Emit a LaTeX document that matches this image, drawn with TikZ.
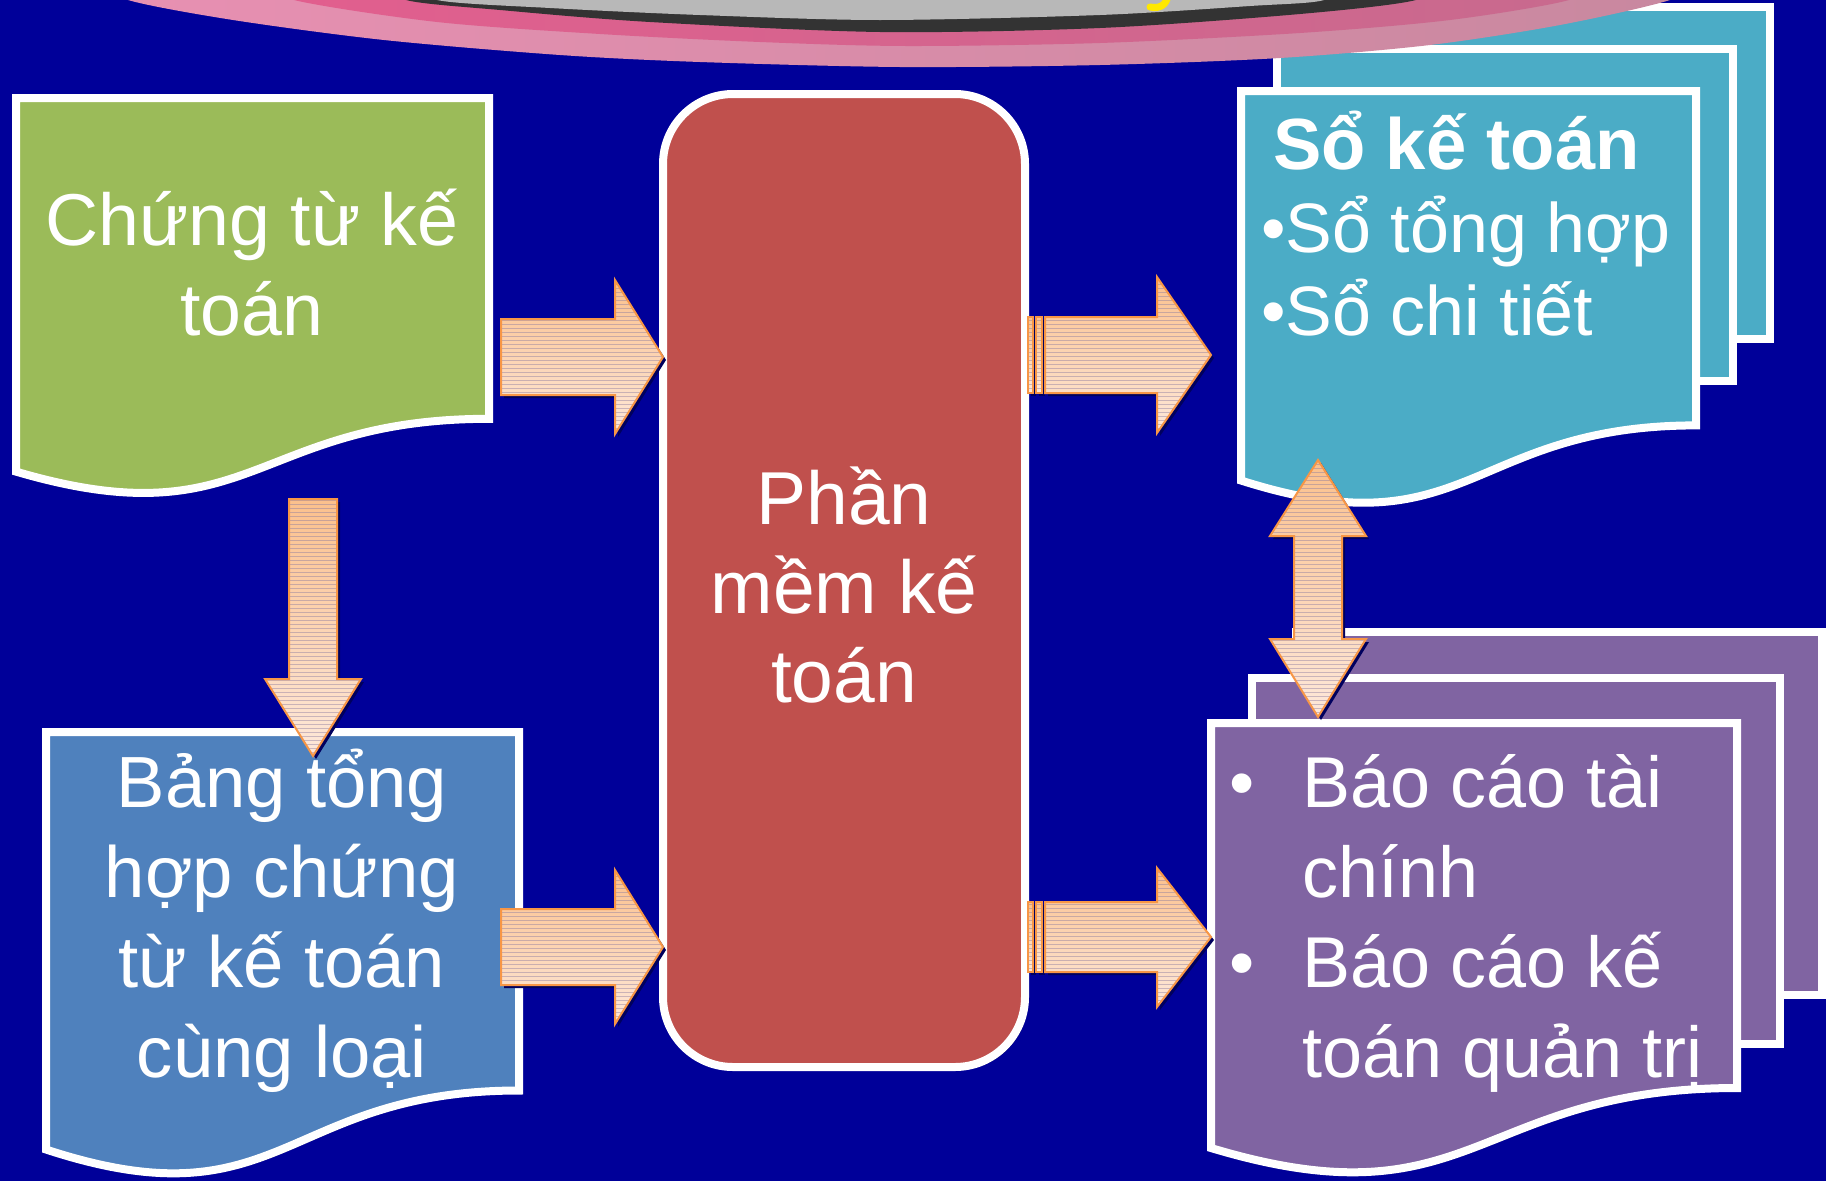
\documentclass[tikz,border=0pt]{standalone}
\usepackage{fontspec}
\setmainfont{Liberation Sans}
\definecolor{bg}{HTML}{000099}
\definecolor{cgreen}{HTML}{9BBB59}
\definecolor{cblue}{HTML}{4F81BD}
\definecolor{cred}{HTML}{C0504D}
\definecolor{ccyan}{HTML}{4BACC6}
\definecolor{cpurple}{HTML}{8064A2}
\definecolor{aline}{HTML}{F79646}
\definecolor{atop}{HTML}{FBC08C}
\definecolor{abot}{HTML}{FDE8DA}
\definecolor{stripecol}{HTML}{8C7CA0}
\definecolor{shad}{HTML}{00005E}
\definecolor{pkA}{HTML}{E890B2}
\definecolor{pkB}{HTML}{D9B2C6}
\definecolor{pkC}{HTML}{C8889F}
\definecolor{dpA}{HTML}{E25E8E}
\definecolor{dpB}{HTML}{A33C64}
\definecolor{dpC}{HTML}{C86A8E}
\definecolor{ringcol}{HTML}{333333}
\definecolor{graycol}{HTML}{B8B8B8}
\definecolor{yel}{HTML}{FFE800}
\tikzset{
  docbox/.style={draw=white, line width=8pt, line join=miter},
  shadowfill/.style={fill=shad},
  arrline/.style={draw=aline, line width=2pt, line join=miter},
  stripeline/.style={draw=stripecol, line width=0.8pt, opacity=0.45},
  bigtext/.style={text=white, inner sep=0pt, font=\fontsize{72}{90}\selectfont},
}
\newcommand\blockarr[5]{%
  \fill[shadowfill, shift={(3,3)}] #1;
  \shade[top color=atop, bottom color=abot] #1;
  \begin{scope}
    \clip #1;
    \foreach \yy in {#2,...,#3} {
      \draw[stripeline] (#4,\yy*4) -- (#5,\yy*4);
    }
  \end{scope}
  \draw[arrline] #1;
}
\begin{document}
\begin{tikzpicture}[x=1pt,y=-1pt]
\useasboundingbox (0,0) rectangle (1826,1181);
\fill[bg] (0,0) rectangle (1826,1181);

% ---------- green document ----------
\fill[shadowfill, shift={(3,3)}] (16,98) -- (489,98) -- (489,418.8) .. controls (252.5,418.8) and (252.5,541) .. (16,471.6) -- cycle;
\path[docbox, fill=cgreen] (16,98) -- (489,98) -- (489,418.8) .. controls (252.5,418.8) and (252.5,541) .. (16,471.6) -- cycle;
\node[bigtext, anchor=base, align=center, font=\fontsize{73.5}{90}\selectfont] (chungtu) at (252,335) {Chứng từ kế\\toán};

% ---------- blue document ----------
\fill[shadowfill, shift={(3,3)}] (46,732) -- (519,732) -- (519,1090.5) .. controls (282.5,1090.5) and (282.5,1227) .. (46,1149.5) -- cycle;
\path[docbox, fill=cblue] (46,732) -- (519,732) -- (519,1090.5) .. controls (282.5,1090.5) and (282.5,1227) .. (46,1149.5) -- cycle;
\node[bigtext, anchor=base, align=center, font=\fontsize{72.5}{90}\selectfont] (bangth) at (282,1077) {Bảng tổng\\hợp chứng\\từ kế toán\\cùng loại};

% ---------- red rounded box ----------
\fill[shadowfill, rounded corners=70pt] (666,97) rectangle (1028,1070);
\path[docbox, fill=cred, rounded corners=70pt] (663,94) rectangle (1025,1067);
\node[bigtext, anchor=base, align=center, font=\fontsize{75}{89}\selectfont] (phanmem) at (844,702) {Phần\\mềm kế\\toán};

% ---------- cyan multi-document ----------
\fill[shadowfill] (1316,10) rectangle (1773,342);
\path[docbox, fill=ccyan] (1313,7) rectangle (1770,339);
\fill[shadowfill] (1280,52) rectangle (1736,384);
\path[docbox, fill=ccyan] (1277,49) rectangle (1733,381);
\fill[shadowfill, shift={(3,3)}] (1241,91) -- (1696,91) -- (1696,425.4) .. controls (1468.5,425.4) and (1468.5,552.8) .. (1241,480.5) -- cycle;
\path[docbox, fill=ccyan] (1241,91) -- (1696,91) -- (1696,425.4) .. controls (1468.5,425.4) and (1468.5,552.8) .. (1241,480.5) -- cycle;
\node[text=white, inner sep=0pt, anchor=base west, align=left, font=\fontsize{70}{83}\selectfont] (soketoan) at (1261,335)
  {\hspace*{12pt}{\fontsize{72.5}{83}\selectfont\textbf{Sổ kế toán}}\\•Sổ tổng hợp\\•Sổ chi tiết};

% ---------- purple multi-document ----------
\fill[shadowfill] (1299,635) rectangle (1840,998);
\path[docbox, fill=cpurple] (1296,632) rectangle (1822,995);
\path[draw=white, line width=8pt] (1822,628) -- (1822,999);
\fill[shadowfill] (1255,681) rectangle (1783,1047);
\path[docbox, fill=cpurple] (1252,678) rectangle (1780,1044);
\fill[shadowfill, shift={(3,3)}] (1211,723) -- (1737,723) -- (1737,1088) .. controls (1474,1088) and (1474,1227) .. (1211,1148) -- cycle;
\path[docbox, fill=cpurple] (1211,723) -- (1737,723) -- (1737,1088) .. controls (1474,1088) and (1474,1227) .. (1211,1148) -- cycle;
\node[bigtext, anchor=base west, align=left] (baocao) at (1229,1077)
  {\makebox[73pt][l]{•}Báo cáo tài\\\hspace*{73pt}chính\\\makebox[73pt][l]{•}Báo cáo kế\\\hspace*{73pt}toán quản trị};

% ---------- block arrows ----------
% green -> red
\blockarr{(501,319) -- (615,319) -- (615,280) -- (663,357) -- (615,434) -- (615,395) -- (501,395) -- cycle}{69}{109}{495}{670}
% blue -> red
\blockarr{(501,909) -- (615,909) -- (615,870) -- (663,947) -- (615,1024) -- (615,985) -- (501,985) -- cycle}{217}{257}{495}{670}
% red -> cyan (striped)
\blockarr{(1028,317) rectangle (1033,393)}{79}{99}{1020}{1040}
\blockarr{(1036,317) rectangle (1042,393)}{79}{99}{1030}{1050}
\blockarr{(1045,317) -- (1157,317) -- (1157,277) -- (1211,355) -- (1157,433) -- (1157,393) -- (1045,393) -- cycle}{69}{109}{1040}{1215}
% red -> purple (striped)
\blockarr{(1028,902) rectangle (1033,972)}{225}{244}{1020}{1040}
\blockarr{(1036,902) rectangle (1042,972)}{225}{244}{1030}{1050}
\blockarr{(1045,902) -- (1157,902) -- (1157,868) -- (1211,937) -- (1157,1007) -- (1157,972) -- (1045,972) -- cycle}{216}{252}{1040}{1215}
% green -> blue (down)
\blockarr{(289,499) -- (337,499) -- (337,679) -- (361,679) -- (313,756) -- (265,679) -- (289,679) -- cycle}{124}{190}{260}{366}
% cyan <-> purple (double)
\blockarr{(1318,460) -- (1366,536) -- (1342,536) -- (1342,639) -- (1366,639) -- (1318,717) -- (1270,639) -- (1294,639) -- (1294,536) -- (1270,536) -- cycle}{114}{180}{1265}{1371}

% ---------- banner (cropped) ----------
\begin{scope}
\clip (0,0) rectangle (1826,1181);
\shade[left color=pkA, middle color=pkB, right color=pkC]
  plot[smooth] coordinates {(100,-20) (128,0) (233,20) (384,40) (560,55) (700,62) (900,67) (1100,65) (1280,58) (1430,45) (1560,25) (1670,0) (1700,-20)} -- cycle;
\shade[left color=dpA, middle color=dpB, right color=dpC]
  plot[smooth] coordinates {(270,-20) (294,0) (437,22) (600,34) (760,42) (906,46) (1100,43) (1300,33) (1450,20) (1569,0) (1590,-20)} -- cycle;
\fill[ringcol]
  plot[smooth] coordinates {(390,-20) (406,0) (500,10) (650,22) (880,32) (1100,28) (1300,14) (1416,0) (1430,-20)} -- cycle;
\fill[graycol]
  plot[smooth] coordinates {(425,-20) (437,0) (550,8) (700,15) (880,20) (1100,15) (1250,6) (1324,0) (1335,-20)} -- cycle;
\draw[yel, line width=7pt, line cap=round] (1168,-4) .. controls (1166,5) and (1160,9) .. (1150,7);
\end{scope}
\end{tikzpicture}
\end{document}
